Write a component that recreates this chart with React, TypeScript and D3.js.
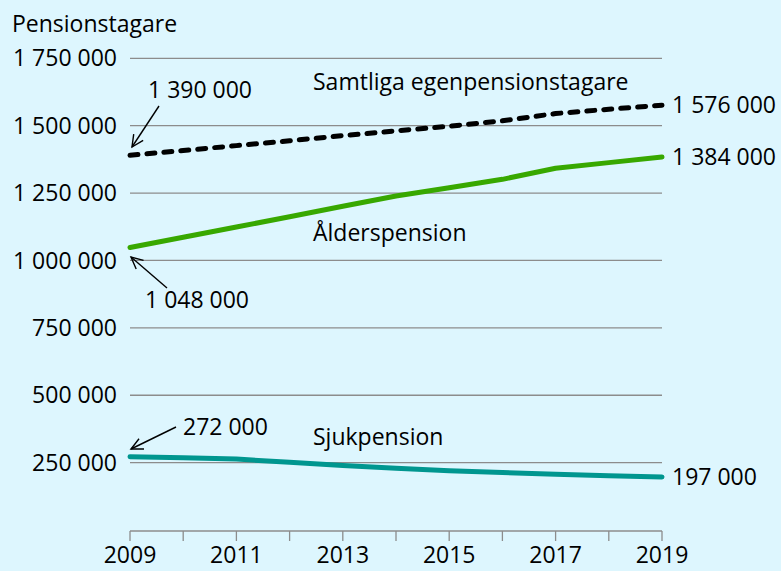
import React from "react";
import * as d3 from "d3";

const years = [2009, 2010, 2011, 2012, 2013, 2014, 2015, 2016, 2017, 2018, 2019];
const samtliga = [1390000, 1408000, 1426000, 1444000, 1463000, 1481000, 1498000, 1518000, 1545000, 1561000, 1576000];
const alders = [1048000, 1086000, 1124000, 1162000, 1201000, 1239000, 1270000, 1301000, 1342000, 1363000, 1384000];
const sjuk = [272000, 268000, 263000, 251000, 239000, 229000, 220000, 213000, 207000, 201000, 197000];
const yTicks = [250000, 500000, 750000, 1000000, 1250000, 1500000, 1750000];
const xTickLabels = [2009, 2011, 2013, 2015, 2017, 2019];

const W = 781, H = 571;
const FONT = "'Open Sans', sans-serif";
const FS = 23;

const fmt = (v: number) => d3.format(",")(v).replace(/,/g, " ");

export default function App() {
  const x = d3.scaleLinear().domain([2009, 2019]).range([130, 662]);
  const y = d3.scaleLinear().domain([0, 1750000]).range([530, 58.3]);
  const line = d3.line<number>().x((_, i) => x(years[i])).y((d) => y(d));

  const arrow = (x1: number, y1: number, x2: number, y2: number) => {
    const ang = Math.atan2(y2 - y1, x2 - x1);
    const L = 13, a = 0.45;
    const p1 = [x2 - L * Math.cos(ang - a), y2 - L * Math.sin(ang - a)];
    const p2 = [x2 - L * Math.cos(ang + a), y2 - L * Math.sin(ang + a)];
    return (
      <g stroke="#000" strokeWidth={1.4} fill="none">
        <line x1={x1} y1={y1} x2={x2} y2={y2} />
        <polyline points={`${p1[0]},${p1[1]} ${x2},${y2} ${p2[0]},${p2[1]}`} />
      </g>
    );
  };

  const last = years.length - 1;

  return (
    <svg width={W} height={H} style={{ position: "absolute", left: 0, top: 0 }} fontFamily={FONT}>
      <rect x={0} y={0} width={W} height={H} fill="#ddf6fe" />
      <text x={12} y={24} dy="0.35em" fontSize={FS}>Pensionstagare</text>
      {yTicks.map((t) => (
        <g key={t}>
          <line x1={x(2009)} x2={x(2019)} y1={y(t)} y2={y(t)} stroke="#8c8c8c" strokeWidth={1.3} />
          <text x={117} y={y(t)} dy="0.35em" textAnchor="end" fontSize={FS}>{fmt(t)}</text>
        </g>
      ))}
      <line x1={x(2009)} x2={x(2019)} y1={531} y2={531} stroke="#8c8c8c" strokeWidth={1.3} />
      {years.map((yr) => (
        <line key={yr} x1={x(yr)} x2={x(yr)} y1={531} y2={541} stroke="#8c8c8c" strokeWidth={1.3} />
      ))}
      {xTickLabels.map((yr) => (
        <text key={yr} x={x(yr)} y={555} dy="0.35em" textAnchor="middle" fontSize={FS}>{yr}</text>
      ))}

      <path d={line(sjuk) || ""} fill="none" stroke="#00968f" strokeWidth={5} strokeLinecap="round" strokeLinejoin="round" />
      <path d={line(alders) || ""} fill="none" stroke="#38a800" strokeWidth={5} strokeLinecap="round" strokeLinejoin="round" />
      <path d={line(samtliga) || ""} fill="none" stroke="#000" strokeWidth={5} strokeDasharray="8 9" strokeLinecap="round" strokeLinejoin="round" />

      <text x={313} y={82} dy="0.35em" fontSize={FS}>Samtliga egenpensionstagare</text>
      <text x={313} y={233} dy="0.35em" fontSize={FS}>Ålderspension</text>
      <text x={313} y={437} dy="0.35em" fontSize={FS}>Sjukpension</text>

      <text x={672} y={y(samtliga[last])} dy="0.35em" fontSize={FS}>{fmt(samtliga[last])}</text>
      <text x={672} y={y(alders[last])} dy="0.35em" fontSize={FS}>{fmt(alders[last])}</text>
      <text x={672} y={y(sjuk[last])} dy="0.35em" fontSize={FS}>{fmt(sjuk[last])}</text>

      <text x={148} y={90} dy="0.35em" fontSize={FS}>{fmt(samtliga[0])}</text>
      {arrow(159, 106, 132, 147)}
      <text x={145} y={300} dy="0.35em" fontSize={FS}>{fmt(alders[0])}</text>
      {arrow(167, 288, 131, 257)}
      <text x={183} y={427} dy="0.35em" fontSize={FS}>{fmt(sjuk[0])}</text>
      {arrow(176, 427, 131, 449)}
    </svg>
  );
}
